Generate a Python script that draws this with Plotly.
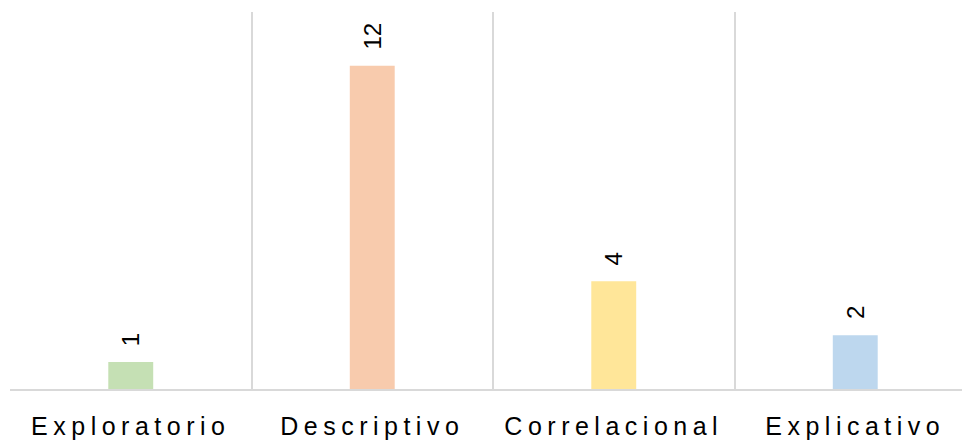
import plotly.graph_objects as go

categories = ["Exploratorio", "Descriptivo", "Correlacional", "Explicativo"]
values = [1, 12, 4, 2]
colors = ["#C5E0B4", "#F8CBAD", "#FFE699", "#BDD7EE"]

FONT = "Arial, 'Liberation Sans', sans-serif"

fig = go.Figure()
fig.add_trace(go.Bar(
    x=categories, y=values, marker=dict(color=colors, line=dict(width=0)),
    width=0.186, hoverinfo="skip",
))

for c, v in zip(categories, values):
    fig.add_annotation(
        x=c, y=v, text=str(v), textangle=-90, showarrow=False,
        yanchor="bottom", yshift=14,
        font=dict(family=FONT, size=24, color="#000000"),
    )

fig.update_layout(
    width=962, height=440, template="none",
    paper_bgcolor="white", plot_bgcolor="white",
    margin=dict(l=10, r=0, t=12, b=51),
    showlegend=False,
    xaxis=dict(
        type="category", range=[-0.5, -0.5 + 952 / 241.5],
        tickson="boundaries", showgrid=True, gridcolor="#D9D9D9", gridwidth=1.5,
        ticks="", showline=True, linecolor="#D9D9D9", linewidth=1.5,
        zeroline=False, ticklabelstandoff=14,
        tickfont=dict(family=FONT, size=25, color="#000000"),
    ),
    yaxis=dict(
        range=[0, 14], showgrid=False, showticklabels=False, zeroline=False,
        showline=False, ticks="",
    ),
)

post = """
var s=document.createElement('style');
s.innerHTML='html,body{margin:0;padding:0;overflow:hidden}.xtick text{letter-spacing:5.5px}';
document.head.appendChild(s);
"""
fig.write_html("out.html", post_script=post, config={"displayModeBar": False})
